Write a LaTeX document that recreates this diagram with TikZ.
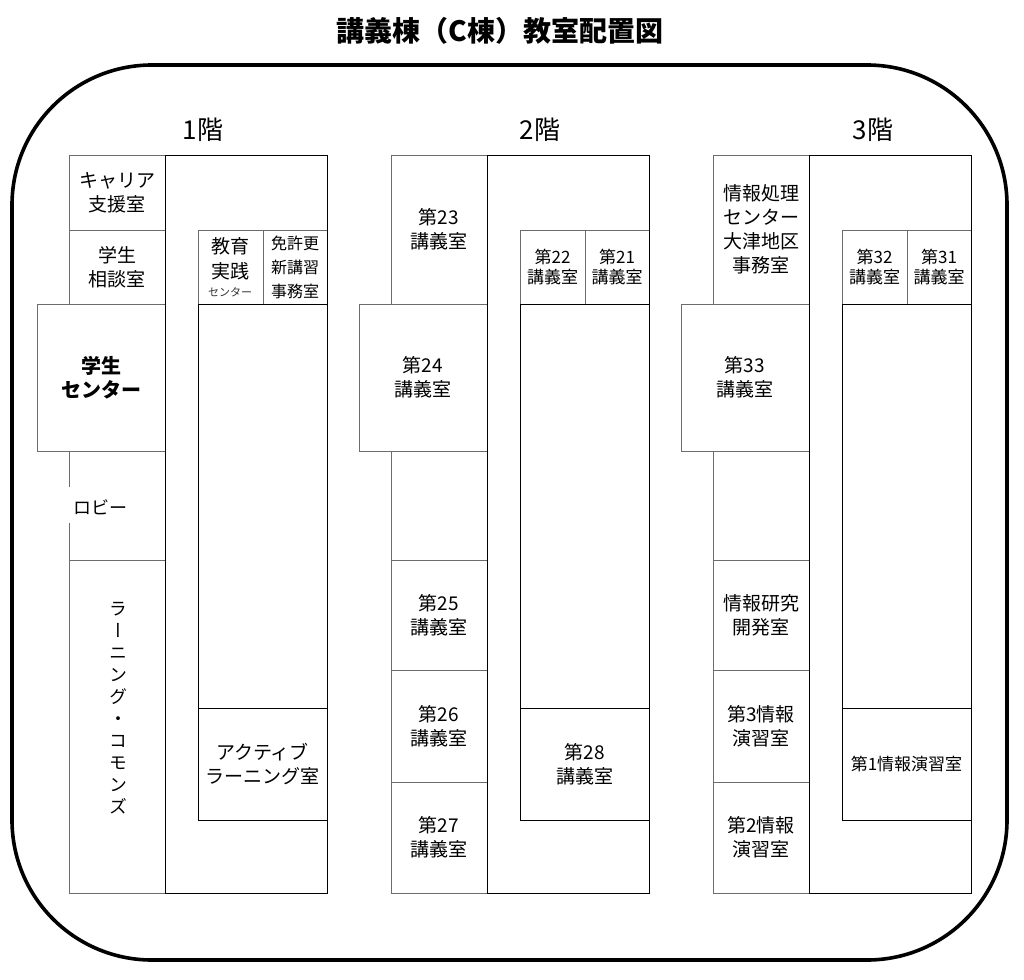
\documentclass[tikz,border=0pt]{standalone}
\usepackage{fontspec}
\setmainfont{Noto Sans CJK JP}
\newfontfamily\vjp[RawFeature=+vert]{Noto Sans CJK JP}
\usepackage{tikz}
\tikzset{
wall/.style={draw=black,line width=0.9pt},
part/.style={draw=gray!85!black,line width=0.9pt},
frame/.style={draw=black,line width=3.6pt,rounded corners=140pt},
lbl/.style={midway,align=center,inner sep=0pt,font=\fontsize{19}{24}\selectfont},
small lbl/.style={lbl,font=\fontsize{17}{20}\selectfont},
floor/.style={inner sep=0pt,font=\fontsize{26}{30}\selectfont}}

\begin{document}
\begin{tikzpicture}[x=1pt,y=-1pt]
\useasboundingbox (0,0) rectangle (1024,979);

\node[font=\bfseries\fontsize{28}{32}\selectfont] (title) at (500,31) {講義棟（C棟）教室配置図};
\draw[frame] (12,65) rectangle (1007,960);

\node[floor] (f1) at (203,130) {1階};
\node[floor] (f2) at (540,130) {2階};
\node[floor] (f3) at (873,130) {3階};

% 1階
\draw[part] (69,155) rectangle (165,230) node[lbl] (career) {キャリア\\支援室};
\draw[part] (69,230) rectangle (165,304) node[lbl] (soudan) {学生\\相談室};
\draw[part] (37,304) rectangle (165,451) node[lbl,font=\bfseries\fontsize{20}{24}\selectfont] (gcenter) {学生\\センター};
\draw[part] (69,451) -- (69,487) (69,523) -- (69,560);
\node[anchor=west,inner sep=0pt,font=\fontsize{18}{24}\selectfont] (lobby) at (73,507) {ロビー};
\draw[part] (69,560) rectangle (165,893);
\node[align=center,inner sep=0pt,font=\vjp\fontsize{18}{22}\selectfont] (commons) at (118,708) {ラ\\ー\\ニ\\ン\\グ\\・\\コ\\モ\\ン\\ズ};
\draw[part] (198,230) rectangle (263,304);
\node[align=center,inner sep=0pt,font=\fontsize{19}{25}\selectfont] (kyoiku) at (230,259) {教育\\実践};
\node[inner sep=0pt,font=\fontsize{11}{12}\selectfont,text=black!80] (kcenter) at (230,292) {センター};
\draw[part] (263,230) rectangle (327,304) node[lbl,font=\fontsize{16}{24}\selectfont] (menkyo) {免許更\\新講習\\事務室};
\draw[wall] (198,304) rectangle (327,708);
\draw[wall] (198,708) rectangle (327,820) node[lbl] (active) {アクティブ\\ラーニング室};
\draw[wall] (165,155) rectangle (327,893);

% 2階
\begin{scope}[shift={(322,0)}]
\draw[part] (69,155) rectangle (165,304) node[lbl] (r23) {第23\\講義室};
\draw[part] (37,304) rectangle (165,451) node[lbl] (r24) {第24\\講義室};
\draw[part] (69,451) rectangle (165,560);
\draw[part] (69,560) rectangle (165,670) node[lbl] (r25) {第25\\講義室};
\draw[part] (69,670) rectangle (165,782) node[lbl] (r26) {第26\\講義室};
\draw[part] (69,782) rectangle (165,893) node[lbl] (r27) {第27\\講義室};
\draw[part] (198,230) rectangle (263,304) node[small lbl] (r22) {第22\\講義室};
\draw[part] (263,230) rectangle (327,304) node[small lbl] (r21) {第21\\講義室};
\draw[wall] (198,304) rectangle (327,708);
\draw[wall] (198,708) rectangle (327,820) node[lbl] (r28) {第28\\講義室};
\draw[wall] (165,155) rectangle (327,893);
\end{scope}

% 3階
\begin{scope}[shift={(644,0)}]
\draw[part] (69,155) rectangle (165,304) node[lbl] (jcenter) {情報処理\\センター\\大津地区\\事務室};
\draw[part] (37,304) rectangle (165,451) node[lbl] (r33) {第33\\講義室};
\draw[part] (69,451) rectangle (165,560);
\draw[part] (69,560) rectangle (165,670) node[lbl] (kenkyu) {情報研究\\開発室};
\draw[part] (69,670) rectangle (165,782) node[lbl] (ensyu3) {第3情報\\演習室};
\draw[part] (69,782) rectangle (165,893) node[lbl] (ensyu2) {第2情報\\演習室};
\draw[part] (198,230) rectangle (263,304) node[small lbl] (r32) {第32\\講義室};
\draw[part] (263,230) rectangle (327,304) node[small lbl] (r31) {第31\\講義室};
\draw[wall] (198,304) rectangle (327,708);
\draw[wall] (198,708) rectangle (327,820) node[lbl,font=\fontsize{17}{20}\selectfont] (ensyu1) {第1情報演習室};
\draw[wall] (165,155) rectangle (327,893);
\end{scope}

\end{tikzpicture}
\end{document}
